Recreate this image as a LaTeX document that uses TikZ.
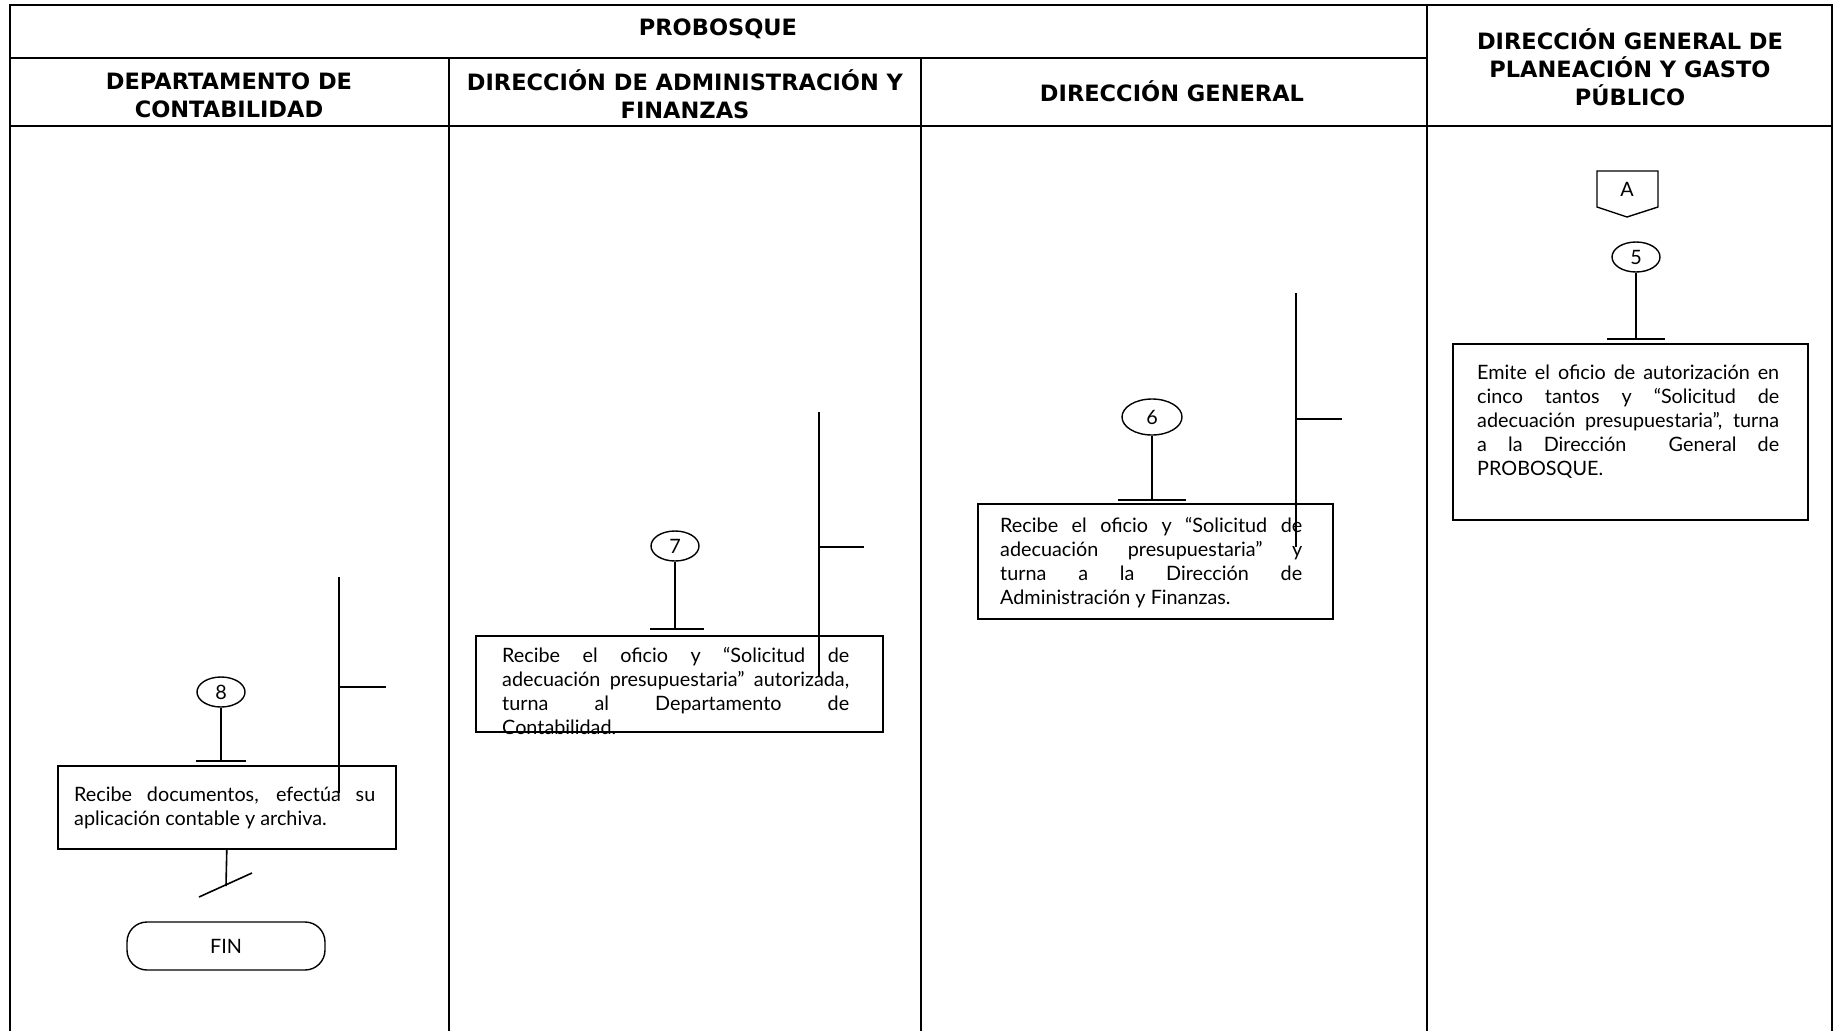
\documentclass[tikz,border=0pt]{standalone}
\usepackage{fontspec}
\setmainfont{Lato}
\newfontfamily\hdrfont{DejaVu Sans}
\usetikzlibrary{shapes.geometric}
\begin{document}
\begin{tikzpicture}[x=1pt,y=-1pt,
  frame/.style={line width=2.2pt},
  grid/.style={line width=1.6pt},
  hdr/.style={font=\hdrfont\fontsize{22.5}{28}\selectfont\bfseries, align=center, inner sep=0},
  proc/.style={draw, line width=1.6pt, rectangle, inner sep=0, anchor=north west},
  txt/.style={font=\fontsize{19.8}{24}\selectfont, align=justify, inner sep=0, anchor=north west},
  num/.style={draw, ellipse, line width=1.4pt, inner sep=0, minimum width=48, minimum height=30, font=\fontsize{19.8}{22}\selectfont},
  conn/.style={line width=1.6pt},
  term/.style={draw, line width=1.4pt, rounded corners=20pt, minimum width=198, minimum height=48, inner sep=0, font=\fontsize{19.8}{22}\selectfont},
]
\useasboundingbox (0,0) rectangle (1835,1030);
\fill[white] (0,0) rectangle (1835,1030);

% frame and lanes
\draw[frame] (10,1032) -- (10,5) -- (1832,5) -- (1832,1032);
\draw[grid] (10,58) -- (1427,58);
\draw[grid] (10,126) -- (1832,126);
\draw[grid] (449,58) -- (449,1032);
\draw[grid] (921,58) -- (921,1032);
\draw[grid] (1427,5) -- (1427,1032);

% headers
\node[hdr] (hP) at (718,29) {PROBOSQUE};
\node[hdr] (hDC) at (229,95) {DEPARTAMENTO DE\\CONTABILIDAD};
\node[hdr] (hDAF) at (685,94) {DIRECCIÓN DE ADMINISTRACIÓN Y\\FINANZAS};
\node[hdr] (hDG) at (1172,91) {DIRECCIÓN GENERAL};
\node[hdr] (hDGP) at (1630,67) {DIRECCIÓN GENERAL DE\\PLANEACIÓN Y GASTO\\PÚBLICO};

% ---- column 4
\node[font=\fontsize{19.8}{22}\selectfont, inner sep=0] (A) at (1627,189) {A};
\draw[line width=1.4pt] (1597,207) -- (1597,171) -- (1658,171) -- (1658,207) -- (1627,217) -- cycle;
\node[num] (n5) at (1636,257) {5};
\coordinate (b5) at (1636,339);
\draw[conn] (n5.south) -- (b5);
\draw[conn] ([xshift=-29pt]b5) -- ([xshift=29pt]b5);
\node[proc, minimum width=355, minimum height=176] (p5) at (1452,343) {};
\node[txt, text width=302pt] (t5) at (1477,362.5) {\rule{0pt}{16.5pt}Emite el oficio de autorización en\linebreak cinco tantos y “Solicitud de\linebreak adecuación presupuestaria”, turna\linebreak a la Dirección\ \ General de\linebreak PROBOSQUE.};

% ---- column 3
\node[num, minimum width=60, minimum height=36] (n6) at (1152,417) {6};
\coordinate (b6) at (1152,500);
\draw[conn] (n6.south) -- (b6);
\draw[conn] ([xshift=-34pt]b6) -- ([xshift=34pt]b6);
\node[proc, minimum width=355, minimum height=115] (p6) at (977,503) {};
\node[txt, text width=302pt] (t6) at (1000,515.5) {\rule{0pt}{16.5pt}Recibe el oficio y “Solicitud de\linebreak adecuación presupuestaria” y\linebreak turna a la Dirección de\linebreak Administración y Finanzas.};
\coordinate (v6a) at (1296,293);
\coordinate (v6b) at (1296,547);
\coordinate (v6t) at (1342,419);
\draw[conn] (v6a) -- (v6b);
\draw[conn] (v6a |- v6t) -- (v6t);

% ---- column 2
\node[num] (n7) at (675,546) {7};
\coordinate (b7) at (677,629);
\draw[conn] (n7.south) -- (n7.south |- b7);
\draw[conn] ([xshift=-27pt]b7) -- ([xshift=27pt]b7);
\node[proc, minimum width=407, minimum height=96] (p7) at (475,635) {};
\node[txt, text width=347pt] (t7) at (502,645.5) {\rule{0pt}{16.5pt}Recibe el oficio y “Solicitud de\linebreak adecuación presupuestaria” autorizada,\linebreak turna al Departamento de\linebreak Contabilidad.};
\coordinate (v7a) at (819,412);
\coordinate (v7b) at (819,677);
\coordinate (v7t) at (864,547);
\draw[conn] (v7a) -- (v7b);
\draw[conn] (v7a |- v7t) -- (v7t);

% ---- column 1
\node[num] (n8) at (221,692) {8};
\coordinate (b8) at (221,761);
\draw[conn] (n8.south) -- (b8);
\draw[conn] ([xshift=-25pt]b8) -- ([xshift=25pt]b8);
\node[proc, minimum width=338, minimum height=83] (p8) at (57,765) {};
\node[txt, text width=301pt] (t8) at (74,784.5) {\rule{0pt}{16.5pt}Recibe documentos, efectúa su\linebreak aplicación contable y archiva.};
\coordinate (v8a) at (339,577);
\coordinate (v8b) at (339,793);
\coordinate (v8t) at (386,687);
\draw[conn] (v8a) -- (v8b);
\draw[conn] (v8a |- v8t) -- (v8t);

\coordinate (e8) at (226,886);
\draw[conn] (p8.south) -- (e8);
\coordinate (d1) at (199,897);
\coordinate (d2) at (252,873);
\draw[conn] (d1) -- (d2);
\node[term] (fin) at (226,946) {FIN};
\end{tikzpicture}
\end{document}
